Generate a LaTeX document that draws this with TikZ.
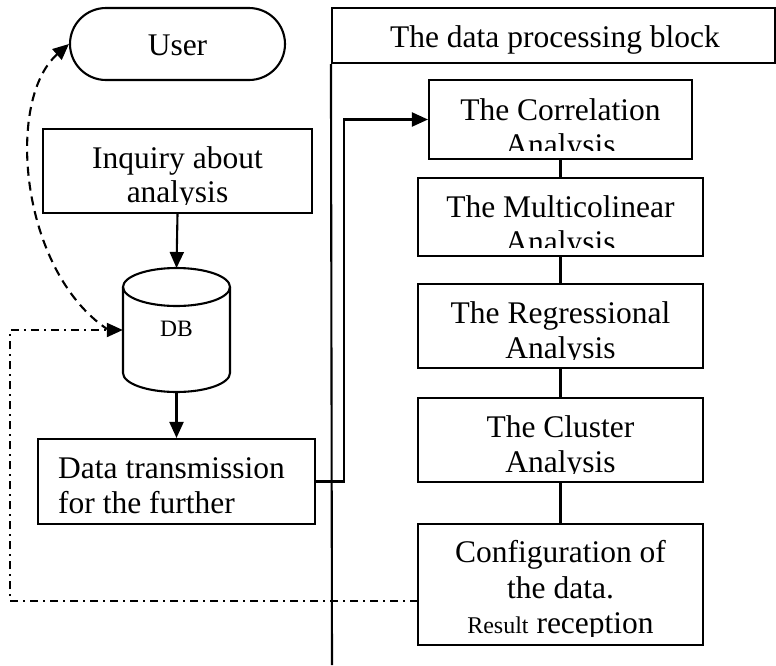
\documentclass[tikz,border=0pt]{standalone}
\usepackage{fontspec}
\setmainfont{Liberation Serif}
\usetikzlibrary{arrows.meta,shapes.misc}
\tikzset{
  lw/.style={line width=2.1pt},
  box/.style={draw, lw, rectangle, inner sep=0pt},
  lbl/.style={font=\fontsize{31.5}{35}\selectfont, inner sep=0pt, anchor=base},
  lblsmall/.style={font=\fontsize{24}{28}\selectfont, inner sep=0pt, anchor=base},
  tip/.tip={Triangle[length=16pt,width=14pt]},
  arr/.style={lw, -tip},
  arrback/.style={lw, tip-},
  dashcurve/.style={lw, dash pattern=on 9pt off 6pt},
  dashdotline/.style={lw, dash pattern=on 8pt off 5pt on 2pt off 5pt},
}
% clip the text of a box to its inner area (10pt above the bottom edge)
\newcommand\clipinner[1]{\clip ([shift={(2pt,10pt)}]#1.south west) rectangle ([shift={(-2pt,-2pt)}]#1.north east);}
\begin{document}
\begin{tikzpicture}[x=1pt,y=-1pt]
\useasboundingbox (0,0) rectangle (776,665);

% ---- left column ----
\node[draw, lw, rounded rectangle, minimum width=215, minimum height=72, inner sep=0pt] (user) at (177.5,44) {};
\node[lbl] (usert) at (177.5,55) {User};

\node[box, minimum width=269, minimum height=84] (inq) at (177.5,171) {};
\begin{scope}
  \clipinner{inq}
  \node[lbl] (inq1) at (177.5,168) {Inquiry about};
  \node[lbl] (inq2) at (177.5,202) {analysis};
\end{scope}

% database cylinder
\node[inner sep=0pt, minimum width=107, minimum height=124] (db) at (176.5,330) {};
\draw[lw] (123,287) -- (123,373) arc[start angle=180, end angle=360, x radius=53.5, y radius=-19] -- (230,287);
\draw[lw] (176.5,287) ellipse[x radius=53.5, y radius=19];
\node[lblsmall, font=\fontsize{23.5}{28}\selectfont] (dbt) at (176.5,336) {DB};

\node[box, minimum width=277, minimum height=85] (data) at (176.5,481.5) {};
\begin{scope}
  \clipinner{data}
  \node[lbl, anchor=base west] (data1) at (58,478) {Data transmission};
  \node[lbl, anchor=base west] (data2) at (58,513) {for the further};
\end{scope}

\draw[arr] (inq.south) -- (176.5,268);
\draw[arr] (176.5,392) -- (data.north);

% ---- data processing block ----
\node[box, minimum width=443, minimum height=55] (blk) at (553.5,35.5) {};
\node[lbl] (blkt) at (555,47) {The data processing block};
\draw[lw] (blk.south west) -- (332,665);

\node[box, minimum width=263, minimum height=79] (corr) at (560.5,119.5) {};
\begin{scope}
  \clipinner{corr}
  \node[lbl] (corr1) at (560.5,120) {The Correlation};
  \node[lbl] (corr2) at (560.5,155) {Analysis};
\end{scope}

\node[box, minimum width=285, minimum height=78] (multi) at (560.5,217) {};
\begin{scope}
  \clipinner{multi}
  \node[lbl] (multi1) at (560.5,217) {The Multicolinear};
  \node[lbl] (multi2) at (560.5,252) {Analysis};
\end{scope}

\node[box, minimum width=285, minimum height=84] (regr) at (560.5,326) {};
\begin{scope}
  \clipinner{regr}
  \node[lbl] (regr1) at (560.5,323) {The Regressional};
  \node[lbl] (regr2) at (560.5,358) {Analysis};
\end{scope}

\node[box, minimum width=285, minimum height=84] (clus) at (560.5,440) {};
\begin{scope}
  \clipinner{clus}
  \node[lbl] (clus1) at (560.5,437) {The Cluster};
  \node[lbl] (clus2) at (560.5,472) {Analysis};
\end{scope}

\node[box, minimum width=285, minimum height=121] (conf) at (560.5,584.5) {};
\begin{scope}
  \clipinner{conf}
  \node[lbl] (conf1) at (560.5,562) {Configuration of};
  \node[lbl] (conf2) at (560.5,598) {the data.};
  \node[lbl] (conf3) at (560.5,633) {{\fontsize{24}{28}\selectfont Result} reception};
\end{scope}

\draw[lw] (corr.south) -- (multi.north);
\draw[lw] (multi.south) -- (regr.north);
\draw[lw] (regr.south) -- (clus.north);
\draw[lw] (clus.south) -- (conf.north);

% hand-over from the left column into the block
\draw[arr] (data.east) -- ++(28,0) |- (corr.west);

% feedback loops
\coordinate (dbin) at (107,329);
\draw[dashdotline] (418,601) -- (10,601) -- (10,330) -- (107,330);
\draw[arr] (107,330) -- (db.west |- 0,330);
\draw[dashcurve, arrback] (user.west) .. controls (5,100) and (20,270) .. (dbin);
\end{tikzpicture}
\end{document}
